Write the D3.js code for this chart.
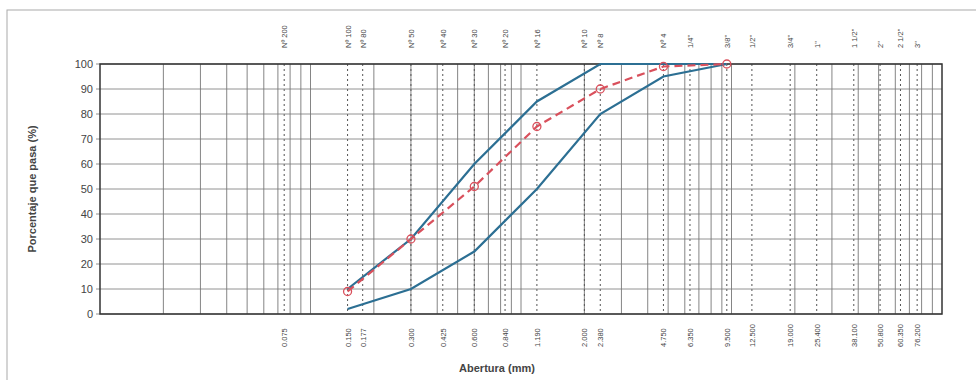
<!DOCTYPE html>
<html>
<head>
<meta charset="utf-8">
<script src="https://cdn.jsdelivr.net/npm/d3@7"></script>
<style>
  body { margin: 0; background: #fff; }
  text { font-family: "Liberation Sans", Arial, sans-serif; fill: #444; }
</style>
</head>
<body>
<svg id="chart" width="976" height="380"></svg>
<script>
// tamices: abertura (mm), nombre arriba, etiqueta abajo
const sieveSizes = [0.075, 0.150, 0.177, 0.300, 0.425, 0.600, 0.840, 1.190, 2.000, 2.380,
                    4.750, 6.350, 9.500, 12.500, 19.000, 25.400, 38.100, 50.800, 63.500, 76.200]
const sieveNames = ['Nº 200', 'Nº 100', 'Nº 80', 'Nº 50', 'Nº 40', 'Nº 30', 'Nº 20', 'Nº 16', 'Nº 10', 'Nº 8',
                    'Nº 4', '1/4"', '3/8"', '1/2"', '3/4"', '1"', '1 1/2"', '2"', '2 1/2"', '3"']
const sieveLabels = ['0.075', '0.150', '0.177', '0.300', '0.425', '0.600', '0.840', '1.190', '2.000', '2.380',
                     '4.750', '6.350', '9.500', '12.500', '19.000', '25.400', '38.100', '50.800', '60.350', '76.200']

// curvas granulométricas
const curveSizes = [0.150, 0.300, 0.600, 1.190, 2.380, 4.750, 9.500]
const upperLimit = [10, 30, 60, 85, 100, 100, 100]
const lowerLimit = [2, 10, 25, 50, 80, 95, 100]
const sample = [9, 30, 51, 75, 90, 99, 100]

const yTicks = [0, 10, 20, 30, 40, 50, 60, 70, 80, 90, 100]

const LEFT = 100, RIGHT = 942, TOP = 64, BOTTOM = 314
const svg = d3.select('#chart')

// marco de la hoja
svg.append('rect').attr('x', 7).attr('y', 10).attr('width', 990).attr('height', 400)
  .attr('fill', 'none').attr('stroke', '#aaa').attr('stroke-width', 1)

const x = d3.scaleLog().domain([0.01, 100]).range([LEFT, RIGHT])
const y = d3.scaleLinear().domain([0, 100]).range([BOTTOM, TOP])

// rejilla logarítmica (líneas continuas)
const minor = []
for (let p = -2; p < 2; p++) for (let k = 1; k <= 9; k++) minor.push(k * Math.pow(10, p))
svg.append('g').selectAll('line').data(minor.filter(d => d > 0.01)).join('line')
  .attr('x1', d => x(d)).attr('x2', d => x(d)).attr('y1', TOP).attr('y2', BOTTOM)
  .attr('stroke', '#666').attr('stroke-width', 0.8)

// tamices (líneas punteadas)
svg.append('g').selectAll('line').data(sieveSizes).join('line')
  .attr('x1', d => x(d)).attr('x2', d => x(d)).attr('y1', TOP).attr('y2', BOTTOM)
  .attr('stroke', '#555').attr('stroke-width', 1).attr('stroke-dasharray', '2,3')

// rejilla horizontal
svg.append('g').selectAll('line').data(yTicks).join('line')
  .attr('x1', LEFT - 4).attr('x2', RIGHT).attr('y1', d => y(d)).attr('y2', d => y(d))
  .attr('stroke', '#777').attr('stroke-width', 0.8)

// borde
svg.append('rect').attr('x', LEFT).attr('y', TOP).attr('width', RIGHT - LEFT).attr('height', BOTTOM - TOP)
  .attr('fill', 'none').attr('stroke', '#333').attr('stroke-width', 1.5)

// eje Y
svg.append('g').selectAll('text').data(yTicks).join('text')
  .attr('x', LEFT - 7).attr('y', d => y(d) + 4).attr('text-anchor', 'end')
  .attr('font-size', 11).text(d => d)

svg.append('text').attr('transform', `translate(36,${(TOP + BOTTOM) / 2}) rotate(-90)`)
  .attr('text-anchor', 'middle').attr('font-size', 11).attr('font-weight', 'bold')
  .text('Porcentaje que pasa (%)')

// nombres de tamices arriba
svg.append('g').selectAll('text').data(sieveSizes).join('text')
  .attr('transform', d => `translate(${x(d) + 3},48) rotate(-90)`)
  .attr('font-size', 7.5).text((d, i) => sieveNames[i])

// aberturas abajo
svg.append('g').selectAll('text').data(sieveSizes).join('text')
  .attr('transform', d => `translate(${x(d) + 3},347) rotate(-90)`)
  .attr('font-size', 7.5).text((d, i) => sieveLabels[i])

svg.append('text').attr('x', 497).attr('y', 372).attr('text-anchor', 'middle')
  .attr('font-size', 11).attr('font-weight', 'bold').text('Abertura (mm)')

// curvas
const line = d3.line().x(d => x(d[0])).y(d => y(d[1]))
const blue = '#2c6f93'
for (const lim of [upperLimit, lowerLimit]) {
  svg.append('path').datum(curveSizes.map((s, i) => [s, lim[i]]))
    .attr('d', line).attr('fill', 'none').attr('stroke', blue).attr('stroke-width', 2.2)
}

const red = '#d9505c'
const samplePts = curveSizes.map((s, i) => [s, sample[i]])
svg.append('path').datum(samplePts).attr('d', line).attr('fill', 'none')
  .attr('stroke', red).attr('stroke-width', 2.2).attr('stroke-dasharray', '8,5')
svg.append('g').selectAll('circle').data(samplePts).join('circle')
  .attr('cx', d => x(d[0])).attr('cy', d => y(d[1])).attr('r', 4)
  .attr('fill', 'none').attr('stroke', red).attr('stroke-width', 1.3)
</script>
</body>
</html>
